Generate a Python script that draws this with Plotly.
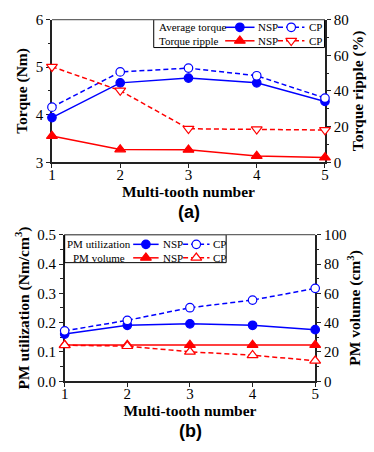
import plotly.graph_objects as go

# ---------------- data ----------------
teeth = [1, 2, 3, 4, 5]
torque_nsp = [3.94, 4.67, 4.77, 4.67, 4.28]
torque_cp = [4.16, 4.90, 4.98, 4.82, 4.35]
ripple_nsp = [14.7, 7.2, 7.0, 3.6, 2.7]
ripple_cp = [53.6, 40.2, 18.8, 18.5, 18.1]
util_nsp = [0.161, 0.191, 0.196, 0.191, 0.176]
util_cp = [0.172, 0.208, 0.251, 0.277, 0.317]
vol_nsp = [24.8, 24.8, 24.8, 24.8, 24.8]
vol_cp = [24.6, 24.0, 20.1, 17.8, 14.0]

x_ticks = [1, 2, 3, 4, 5]
torque_ticks = [3, 4, 5, 6]
ripple_ticks = [0, 20, 40, 60, 80]
util_ticks = [0.0, 0.1, 0.2, 0.3, 0.4, 0.5]
util_tick_text = ["0.0", "0.1", "0.2", "0.3", "0.4", "0.5"]
vol_ticks = [0, 20, 40, 60, 80, 100]

W, H = 374, 452
BLUE = "rgb(0,0,255)"
RED = "rgb(255,0,0)"
SERIF = "Liberation Serif"
DASH = "5px,3px"
LW = 1.5
LEGFONT = 11
CIRC = 8.5
TRI = 9.5


def px(x):
    return x / W


def py(y):
    return 1 - y / H


fig = go.Figure()


def add_series(x, y, xa, ya, color, dash, symbol, filled, name):
    fig.add_trace(go.Scatter(
        x=x, y=y, xaxis=xa, yaxis=ya, mode="lines+markers", name=name,
        showlegend=False, cliponaxis=False,
        line=dict(color=color, width=LW, dash=dash),
        marker=dict(symbol=symbol, size=CIRC if "circle" in symbol else TRI,
                    color=color if filled else "white",
                    line=dict(color=color, width=1.2)),
    ))


# top chart
add_series(teeth, torque_nsp, "x", "y", BLUE, "solid", "circle", True, "Average torque NSP")
add_series(teeth, torque_cp, "x", "y", BLUE, DASH, "circle", False, "Average torque CP")
add_series(teeth, ripple_nsp, "x", "y2", RED, "solid", "triangle-up", True, "Torque ripple NSP")
add_series(teeth, ripple_cp, "x", "y2", RED, DASH, "triangle-down", False, "Torque ripple CP")
# bottom chart
add_series(teeth, util_nsp, "x2", "y3", BLUE, "solid", "circle", True, "PM utilization NSP")
add_series(teeth, util_cp, "x2", "y3", BLUE, DASH, "circle", False, "PM utilization CP")
add_series(teeth, vol_nsp, "x2", "y4", RED, "solid", "triangle-up", True, "PM volume NSP")
add_series(teeth, vol_cp, "x2", "y4", RED, DASH, "triangle-up", False, "PM volume CP")

# ---------- custom legends (pixel overlay axis) ----------
legend_rows = [
    (20, "Average torque", 156, "left", BLUE, "circle", "circle", (226, 256, 258, 280, 307, 310)),
    (34, "Torque ripple", 156, "left", RED, "triangle-up", "triangle-down", (226, 256, 258, 280, 307, 310)),
    (245, "PM utilization", 97, "center", BLUE, "circle", "circle", (132, 158, 160, 183, 210, 212)),
    (259, "PM volume", 97, "center", RED, "triangle-up", "triangle-up", (132, 158, 160, 183, 210, 212)),
]
annotations = []
for (yy, lab, lx, anc, col, s1, s2, xs) in legend_rows:
    a0, a1, atxt, b0, b1, btxt = xs
    for (x0, x1, dsh, sym, filled) in [(a0, a1, "solid", s1, True), (b0, b1, DASH, s2, False)]:
        fig.add_trace(go.Scatter(x=[x0, x1], y=[yy, yy], xaxis="x3", yaxis="y5",
                                 mode="lines", showlegend=False, hoverinfo="skip",
                                 line=dict(color=col, width=LW, dash=dsh)))
        fig.add_trace(go.Scatter(x=[(x0 + x1) / 2], y=[yy], xaxis="x3", yaxis="y5",
                                 mode="markers", showlegend=False, hoverinfo="skip",
                                 marker=dict(symbol=sym, size=CIRC if "circle" in sym else TRI,
                                             color=col if filled else "white",
                                             line=dict(color=col, width=1.2))))
    annotations.append(dict(text=lab, x=px(lx), y=py(yy), xref="paper", yref="paper",
                            xanchor=anc, yanchor="middle", showarrow=False,
                            font=dict(family=SERIF, size=LEGFONT, color="black")))
    annotations.append(dict(text="NSP", x=px(atxt), y=py(yy), xref="paper", yref="paper",
                            xanchor="left", yanchor="middle", showarrow=False,
                            font=dict(family=SERIF, size=LEGFONT, color="black")))
    annotations.append(dict(text="CP", x=px(btxt), y=py(yy), xref="paper", yref="paper",
                            xanchor="left", yanchor="middle", showarrow=False,
                            font=dict(family=SERIF, size=LEGFONT, color="black")))

# panel labels
annotations.append(dict(text="<b>(a)</b>", x=px(189), y=py(211), xref="paper", yref="paper",
                        showarrow=False, xanchor="center", yanchor="middle",
                        font=dict(family="Liberation Sans", size=18, color="black")))
annotations.append(dict(text="<b>(b)</b>", x=px(191), y=py(439), xref="paper", yref="paper",
                        showarrow=False, xanchor="center", yanchor="middle",
                        font=dict(family="Liberation Sans", size=18, color="black")))

shapes = [
    dict(type="rect", xref="paper", yref="paper", x0=px(153), x1=px(327.5), y0=py(41), y1=py(12),
         line=dict(color="black", width=1)),
    dict(type="rect", xref="paper", yref="paper", x0=px(62), x1=px(227), y0=py(264), y1=py(235),
         line=dict(color="black", width=1)),
    dict(type="line", xref="paper", yref="paper", x0=px(49), x1=px(328), y0=py(12), y1=py(12),
         line=dict(color="#666", width=1.2)),
    dict(type="line", xref="paper", yref="paper", x0=px(62), x1=px(318), y0=py(235), y1=py(235),
         line=dict(color="#666", width=1.2)),
]

tickfont = dict(family=SERIF, size=15, color="black")
titlefont = dict(family=SERIF, size=15.5, color="black")


def xax(domain, anchor):
    return dict(domain=domain, anchor=anchor, range=[1, 5], tickvals=x_ticks,
                showgrid=False, zeroline=False, showline=True, linecolor="#222", linewidth=1.5,
                ticks="outside", ticklen=4, tickwidth=1, tickcolor="#222", tickfont=tickfont,
                ticklabelstandoff=-6,
                layer="below traces",
                title=dict(text="<b>Multi-tooth number</b>", font=titlefont, standoff=3))


def yax(domain, anchor, rng, vals, dtick_minor, title, side="left", overlaying=None, ticktext=None):
    d = dict(domain=domain, anchor=anchor, range=rng, tickvals=vals, side=side,
             showgrid=False, zeroline=False, showline=True, linecolor="#222", linewidth=1.5,
             ticks="outside", ticklen=4, tickwidth=1, tickcolor="#222", tickfont=tickfont,
             layer="below traces",
             minor=dict(dtick=dtick_minor, ticks="outside", ticklen=2.5, tickwidth=1, tickcolor="#222",
                        showgrid=False),
             title=dict(text=title, font=titlefont, standoff=4))
    if ticktext:
        d["ticktext"] = ticktext
    if overlaying:
        d["overlaying"] = overlaying
    return d


top_x = [px(49), px(328)]
top_y = [py(160), py(12)]
bot_x = [px(62), px(318)]
bot_y = [py(387), py(235)]

fig.update_layout(
    width=W, height=H, margin=dict(l=0, r=0, t=0, b=0),
    paper_bgcolor="white", plot_bgcolor="rgba(0,0,0,0)",
    xaxis=xax(top_x, "y"),
    yaxis=yax(top_y, "x", [3, 6], torque_ticks, 0.5, "<b>Torque (Nm)</b>"),
    yaxis2=yax(top_y, "x", [0, 80], ripple_ticks, 10, "<b>Torque ripple (%)</b>", side="right", overlaying="y"),
    xaxis2=xax(bot_x, "y3"),
    yaxis3=yax(bot_y, "x2", [0, 0.5], util_ticks, 0.05, "<b>PM utilization (Nm/cm<sup>3</sup>)</b>",
               ticktext=util_tick_text),
    yaxis4=yax(bot_y, "x2", [0, 100], vol_ticks, 10, "<b>PM volume (cm<sup>3</sup>)</b>", side="right",
               overlaying="y3"),
    xaxis3=dict(domain=[0, 1], anchor="y5", range=[0, W], visible=False, fixedrange=True),
    yaxis5=dict(domain=[0, 1], anchor="x3", range=[H, 0], visible=False, fixedrange=True),
    annotations=annotations,
    shapes=shapes,
    showlegend=False,
)
fig.write_html("out.html")
